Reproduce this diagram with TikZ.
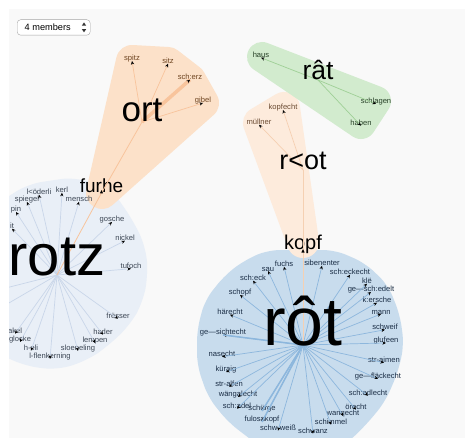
\documentclass[tikz,border=0pt]{standalone}
\usepackage{fontspec}
\setmainfont{Liberation Sans}
\usetikzlibrary{arrows.meta}
\definecolor{panelbg}{HTML}{F9F9F9}
\definecolor{rotzblob}{HTML}{E9EFF7}
\definecolor{rotblob}{HTML}{C8DCED}
\definecolor{orthull}{HTML}{FCE1C9}
\definecolor{rothull}{HTML}{FDEBDC}
\definecolor{rathull}{HTML}{D2EBCE}
\definecolor{ortedge}{HTML}{F8C49C}
\definecolor{rotedgeo}{HTML}{F5D0B2}
\definecolor{ratedge}{HTML}{9FD096}
\definecolor{rotzedge}{HTML}{C9D6E9}
\definecolor{rotedge}{HTML}{8DB7DD}
\definecolor{orttext}{HTML}{6E4420}
\definecolor{rottexto}{HTML}{6B4B32}
\definecolor{rattext}{HTML}{264026}
\definecolor{rotztext}{HTML}{3C4654}
\definecolor{rottext}{HTML}{1A2D45}
\begin{document}
\begin{tikzpicture}[x=1pt,y=-1pt,
  lbl/.style={inner sep=0pt,font=\fontsize{7.6}{8}\selectfont},
  big/.style={inner sep=0pt,anchor=base,font=\fontsize{#1}{#1}\selectfont},
  tip/.style={-{Stealth[length=3.6pt,width=3.2pt,black]}},
  hull/.style={fill=#1,draw=#1,line join=round},
  spoke/.style={draw=#1,line width=0.7pt,tip}]
\useasboundingbox (0,0) rectangle (465,438);
\fill[panelbg] (9,9) rectangle (465,438);
\begin{scope}
\clip (9,9) rectangle (465,438);

% cluster backgrounds
\fill[rotzblob,rounded corners=14pt] (-5,205) -- (28,184) -- (75,177) -- (112,190)
  -- (134,222) -- (146,248) -- (148,275) -- (143,302) -- (130,325) -- (108,346)
  -- (88,360) -- (58,370) -- (25,366) -- (-5,352) -- cycle;
\fill[rotblob,rounded corners=12pt] (268,250) -- (335,250) -- (365,263) -- (388,285)
  -- (400,315) -- (404,345) -- (398,372) -- (385,402) -- (365,426) -- (345,445)
  -- (258,445) -- (228,422) -- (208,397) -- (197,365) -- (197,330) -- (205,300)
  -- (225,275) -- (245,260) -- cycle;
\filldraw[hull=orthull,line width=32pt] (132,61) -- (168,63) -- (190,80) -- (203,103) -- (102,193) -- cycle;
\filldraw[hull=rothull,line width=32pt] (259,123) -- (284,108) -- (303,242) -- cycle;
\filldraw[hull=rathull,line width=30pt] (262,57) -- (376,101) -- (361,124) -- cycle;

% hubs
\coordinate (orthub) at (142,122);
\coordinate (rathub) at (318,80);
\coordinate (rothubo) at (303,170);
\coordinate (rotzhub) at (57,275);
\coordinate (rothub) at (303,345);

% rotz members
\foreach \i/\x/\y/\t in {1/39/192/l<öderli,2/62/190/kerl,3/27/200/spiegel,4/79/199/mensch,
  5/16/210/pin,6/12/226/it,7/112/220/gosche,8/125/238/nickel,9/131/266/tufoch,
  10/118/316/frësser,11/103/332/hader,12/95/341/lempen,13/78/349/sloeneling,
  14/50/357/l-flenkerning,15/31/348/h-eli,16/20/340/glocke,17/15/331/akel}{
  \node[lbl,text=rotztext] (z\i) at (\x,\y) {\t};
}
\coordinate (zoffa) at (-10,292);
\coordinate (zoffb) at (-10,314);
\foreach \i in {1,...,17}{\draw[spoke=rotzedge] (rotzhub) -- (z\i.base);}
\draw[rotzedge,line width=0.7pt] (rotzhub) -- (zoffa) (rotzhub) -- (zoffb);

% rot members
\foreach \i/\x/\y/\t in {1/268/269/sau,2/284/264/fuchs,3/322/263/sibenenter,
  4/350/272/sch:eckecht,5/367/281/klë,6/371/290/ge—sch:edelt,7/377/300/k:ersche,
  8/381/312/mann,9/385/327/schweif,10/386/341/glufeen,11/384/360/str-aimen,
  12/378/377/ge—fläckecht,13/368/393/sch:edlecht,14/356/407/örecht,
  15/343/414/wanqecht,16/331/422/schimmel,17/313/431/schwanz,18/278/428/schw-weiß,
  19/262/420/fulosakopf,20/262/409/schürge,21/237/406/sch:adel,22/238/395/wängalecht,
  23/229/384/str-alfen,24/226/370/küraig,25/222/354/nasecht,26/223/333/ge—sichtecht,
  27/230/312/härecht,28/240/293/schopf,29/253/278/sch:eck}{
  \node[lbl,text=rottext] (b\i) at (\x,\y) {\t};
}
\foreach \i in {1,...,29}{\draw[spoke=rotedge] (rothub) -- (b\i.base);}
\foreach \i in {19,20,26}{\draw[rotedge,line width=1.5pt] (rothub) -- (b\i.base);}

% ort members
\foreach \i/\x/\y/\t in {1/132/59/spitz,2/168/61/sitz,3/190/77/sch:erz,4/203/101/gibel}{
  \node[lbl,text=orttext] (o\i) at (\x,\y) {\t};
}
\foreach \i in {1,2,4}{\draw[spoke=ortedge] (orthub) -- (o\i.base);}
\draw[ortedge,line width=3.5pt] (orthub) -- (o3.base);
\draw[tip,ortedge,line width=0.7pt] (orthub) -- (o3.base);

% r<ot members
\node[lbl,text=rottexto] (p1) at (283,108) {kopfecht};
\node[lbl,text=rottexto] (p2) at (259,122) {müllner};
\foreach \i in {1,2}{\draw[spoke=rotedgeo] (rothubo) -- (p\i.base);}

% rât members
\node[lbl,text=rattext] (g1) at (261,55) {haus};
\node[lbl,text=rattext] (g2) at (376,102) {schlagen};
\node[lbl,text=rattext] (g3) at (361,123) {haben};
\foreach \i in {1,2,3}{\draw[spoke=ratedge] (rathub) -- (g\i.base);}

% links between clusters
\node[big=19] (furhe) at (101.5,193) {furhe};
\node[big=20] (kopf) at (303,249) {kopf};
\draw[ortedge,line width=0.8pt] (orthub) -- (furhe.base);
\draw[ortedge,line width=0.8pt] (furhe.base) -- (rotzhub);
\draw[rotedgeo,line width=0.8pt] (rothubo) -- (kopf.base);
\draw[rotedgeo,line width=0.8pt] (kopf.base) -- (rothub);
\fill[black] (furhe.base) ++(0,-3) -- ++(-1.6,3.5) -- ++(3.2,0) -- cycle;
\fill[black] (kopf.base) ++(0,0) -- ++(-1.6,3.5) -- ++(3.2,0) -- cycle;

% cluster names
\node[big=35] (ort) at (orthub) {ort};
\node[big=26.5] (rat) at (rathub) {rât};
\node[big=27] (rlot) at (rothubo) {r<ot};
\node[big=58] (rotz) at (rotzhub) {rotz};
\node[big=68] (rot) at (rothub) {rôt};

% member count selector
\node[draw=black!35,fill=white,rounded corners=3.5pt,minimum width=73pt,minimum height=15.5pt,
  anchor=north west,inner sep=0pt] (sel) at (17,19.5) {};
\node[anchor=west,inner sep=0pt,font=\fontsize{9.2}{10}\selectfont] (seltext) at (24.5,27.5) {4 members};
\fill[black!80] (84,22.5) -- (81.8,25.7) -- (86.2,25.7) -- cycle;
\fill[black!80] (84,32.3) -- (81.8,29.1) -- (86.2,29.1) -- cycle;
\end{scope}
\end{tikzpicture}
\end{document}
